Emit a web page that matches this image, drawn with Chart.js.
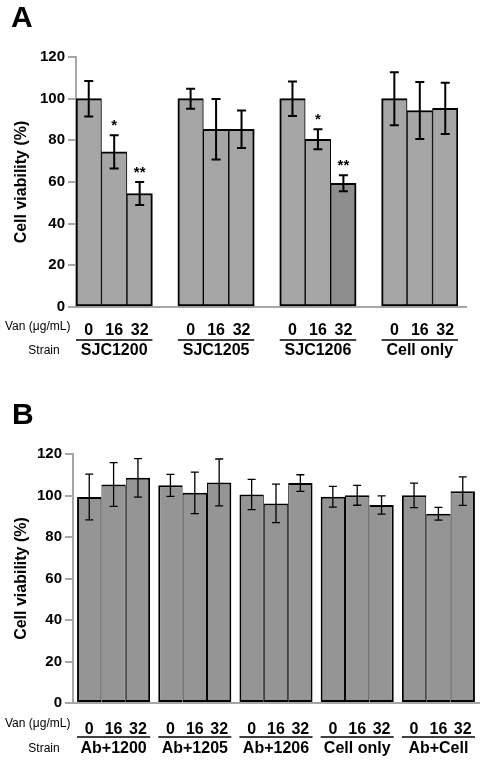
<!DOCTYPE html>
<html lang="en">
<head>
<meta charset="UTF-8">
<title>Cell viability</title>
<script src="https://cdn.jsdelivr.net/npm/chart.js@4.4.1/dist/chart.umd.min.js"></script>
<style>
    body { margin: 0; background: #fff; }
    canvas { position: absolute; left: 0; }
    #chartA { top: 0; }
    #chartB { top: 380px; }
</style>
</head>
<body>
<canvas id="chartA" width="484" height="380"></canvas>
<canvas id="chartB" width="484" height="383"></canvas>
<script>
const doseLabels = ['0', '16', '32'];
const yTicks = [0, 20, 40, 60, 80, 100, 120];

// Panel A - strains alone
const aStrains = ['SJC1200', 'SJC1205', 'SJC1206', 'Cell only'];
const aDose0  = [100, 100, 100, 100];
const aDose16 = [74.5, 85.3, 80.5, 94.3];
const aDose32 = [54.5, 85.3, 59.4, 95.4];
const aErr0  = [8.5, 4.8, 8.3, 12.7];
const aErr16 = [8, 14.5, 4.8, 13.7];
const aErr32 = [5.5, 9, 3.8, 12.3];
const aSig0  = ['', '', '', ''];
const aSig16 = ['*', '', '*', ''];
const aSig32 = ['**', '', '**', ''];

// Panel B - A. baumannii co-culture
const bStrains = ['Ab+1200', 'Ab+1205', 'Ab+1206', 'Cell only', 'Ab+Cell'];
const bDose0  = [99.3, 104.9, 100.5, 99.4, 100.1];
const bDose16 = [105.3, 101.3, 96.2, 100.1, 91.2];
const bDose32 = [108.5, 106.3, 106, 95.4, 102.1];
const bErr0  = [11, 5.3, 7.3, 5, 5.9];
const bErr16 = [10.5, 10, 9.3, 4.8, 3.1];
const bErr32 = [9.3, 11.3, 4, 4.4, 6.9];

const FONT = '"Liberation Sans", Arial, sans-serif';
const AXIS_GREY = '#a6a6a6';

// border per bar so the shared edge inside a group stays thin
function edgeWidth(k) {
    return { top: 2, bottom: 2, left: k === 0 ? 2 : 1, right: k === 2 ? 2 : 1 };
}

const decoPlugin = {
    id: 'deco',
    afterDatasetsDraw(chart, args, opts) {
        const ctx = chart.ctx;
        const y = chart.scales.y;
        const groups = opts.groups(chart);
        ctx.save();
        ctx.strokeStyle = '#000';
        ctx.fillStyle = '#000';
        ctx.lineWidth = opts.errWidth;
        groups.forEach((bars, g) => {
            bars.forEach((bar, k) => {
                const v = opts.values[k][g];
                const e = opts.errors[k][g];
                const top = y.getPixelForValue(v + e);
                const bot = y.getPixelForValue(v - e);
                ctx.beginPath();
                ctx.moveTo(bar.x, top); ctx.lineTo(bar.x, bot);
                ctx.moveTo(bar.x - opts.cap, top); ctx.lineTo(bar.x + opts.cap, top);
                ctx.moveTo(bar.x - opts.cap, bot); ctx.lineTo(bar.x + opts.cap, bot);
                ctx.stroke();
                const s = opts.sig ? opts.sig[k][g] : '';
                if (s) {
                    ctx.font = 'bold 15px ' + FONT;
                    ctx.textAlign = 'center';
                    ctx.textBaseline = 'alphabetic';
                    ctx.fillText(s, bar.x, top - 5);
                }
            });
        });
        ctx.restore();
    },
    afterDraw(chart, args, opts) {
        const ctx = chart.ctx;
        const base = chart.scales.y.getPixelForValue(0);
        const area = chart.chartArea;
        const groups = opts.groups(chart);
        ctx.save();

        // the zero line runs a little past the last bar
        if (opts.axisExtend) {
            ctx.strokeStyle = AXIS_GREY;
            ctx.lineWidth = 2;
            ctx.beginPath();
            ctx.moveTo(area.right - 1, base);
            ctx.lineTo(area.right + opts.axisExtend, base);
            ctx.stroke();
        }

        ctx.fillStyle = '#000';
        ctx.strokeStyle = '#000';

        ctx.font = 'bold 30px ' + FONT;
        ctx.textAlign = 'left';
        ctx.textBaseline = 'alphabetic';
        ctx.fillText(opts.letter, opts.letterX, opts.letterY);

        ctx.textBaseline = 'middle';
        ctx.font = '12px ' + FONT;
        ctx.fillText('Van (\u03bcg/mL)', 5, base + opts.vanDy);
        ctx.textAlign = 'center';
        ctx.fillText('Strain', 44, base + opts.strainDy);

        groups.forEach((bars, g) => {
            ctx.font = 'bold 16px ' + FONT;
            bars.forEach((bar, k) => ctx.fillText(doseLabels[k], bar.x, base + opts.doseDy));
            const x0 = bars[0].x - bars[0].width / 2;
            const x1 = bars[2].x + bars[2].width / 2;
            ctx.lineWidth = 1.5;
            ctx.beginPath();
            ctx.moveTo(x0, base + opts.lineDy);
            ctx.lineTo(x1, base + opts.lineDy);
            ctx.stroke();
            ctx.fillText(opts.strains[g], (x0 + x1) / 2, base + opts.strainDy);
        });
        ctx.restore();
    }
};

function yAxis(width) {
    return {
        min: 0, max: 120,
        afterBuildTicks: s => { s.ticks = yTicks.map(v => ({ value: v })); },
        ticks: { color: '#000', padding: 3, font: { family: FONT, size: 15, weight: 'bold' } },
        grid: { display: true, drawOnChartArea: false, drawTicks: true, tickLength: 8, color: AXIS_GREY, lineWidth: 2 },
        border: { display: true, color: AXIS_GREY, width: 2 },
        title: {
            display: true, text: 'Cell viability (%)', color: '#000',
            font: { family: FONT, size: 16, weight: 'bold' },
            padding: { top: 12, bottom: 0 }
        },
        afterFit: s => { s.width = width; }
    };
}

function xAxis(height) {
    return {
        grid: { display: false, drawTicks: false },
        border: { display: true, color: AXIS_GREY, width: 2 },
        ticks: { display: false },
        afterFit: s => { s.height = height; }
    };
}

// ---- Panel A: one dataset, empty category between strains ----
const aLabels = [], aValues = [], aColors = [], aBorders = [];
aStrains.forEach((s, g) => {
    [aDose0, aDose16, aDose32].forEach((arr, k) => {
        aLabels.push(doseLabels[k]);
        aValues.push(arr[g]);
        aColors.push(g === 2 && k === 2 ? '#8e8e8e' : '#a6a6a6');
        aBorders.push(edgeWidth(k));
    });
    if (g < aStrains.length - 1) {
        aLabels.push('');
        aValues.push(null);
        aColors.push('#a6a6a6');
        aBorders.push(0);
    }
});

new Chart(document.getElementById('chartA'), {
    type: 'bar',
    data: {
        labels: aLabels,
        datasets: [{
            data: aValues,
            backgroundColor: aColors,
            borderColor: '#000',
            borderWidth: aBorders,
            borderSkipped: false,
            barPercentage: 1,
            categoryPercentage: 1
        }]
    },
    options: {
        responsive: false,
        animation: false,
        layout: { padding: { top: 57, right: 26, left: 0, bottom: 0 } },
        scales: { x: xAxis(73), y: yAxis(76) },
        plugins: {
            legend: { display: false },
            tooltip: { enabled: false },
            deco: {
                letter: 'A', letterX: 11, letterY: 27,
                strains: aStrains,
                values: [aDose0, aDose16, aDose32],
                errors: [aErr0, aErr16, aErr32],
                sig: [aSig0, aSig16, aSig32],
                errWidth: 2, cap: 4.5, axisExtend: 9,
                vanDy: 20, doseDy: 24, lineDy: 33, strainDy: 44,
                groups: chart => {
                    const d = chart.getDatasetMeta(0).data;
                    return aStrains.map((s, g) => [d[g * 4], d[g * 4 + 1], d[g * 4 + 2]]);
                }
            }
        }
    },
    plugins: [decoPlugin]
});

// ---- Panel B: three dose datasets grouped by strain ----
new Chart(document.getElementById('chartB'), {
    type: 'bar',
    data: {
        labels: bStrains,
        datasets: [bDose0, bDose16, bDose32].map((arr, k) => ({
            label: doseLabels[k],
            data: arr,
            backgroundColor: '#959595',
            borderColor: '#000',
            borderWidth: edgeWidth(k),
            borderSkipped: false,
            barPercentage: 1,
            categoryPercentage: 0.9
        }))
    },
    options: {
        responsive: false,
        animation: false,
        layout: { padding: { top: 74, right: 5, left: 0, bottom: 0 } },
        scales: { x: xAxis(60), y: yAxis(73) },
        plugins: {
            legend: { display: false },
            tooltip: { enabled: false },
            deco: {
                letter: 'B', letterX: 12, letterY: 44,
                strains: bStrains,
                values: [bDose0, bDose16, bDose32],
                errors: [bErr0, bErr16, bErr32],
                sig: null,
                errWidth: 1.3, cap: 4, axisExtend: 0,
                vanDy: 21, doseDy: 26.5, lineDy: 34, strainDy: 46,
                groups: chart => bStrains.map((s, g) => [0, 1, 2].map(k => chart.getDatasetMeta(k).data[g]))
            }
        }
    },
    plugins: [decoPlugin]
});
</script>
</body>
</html>
